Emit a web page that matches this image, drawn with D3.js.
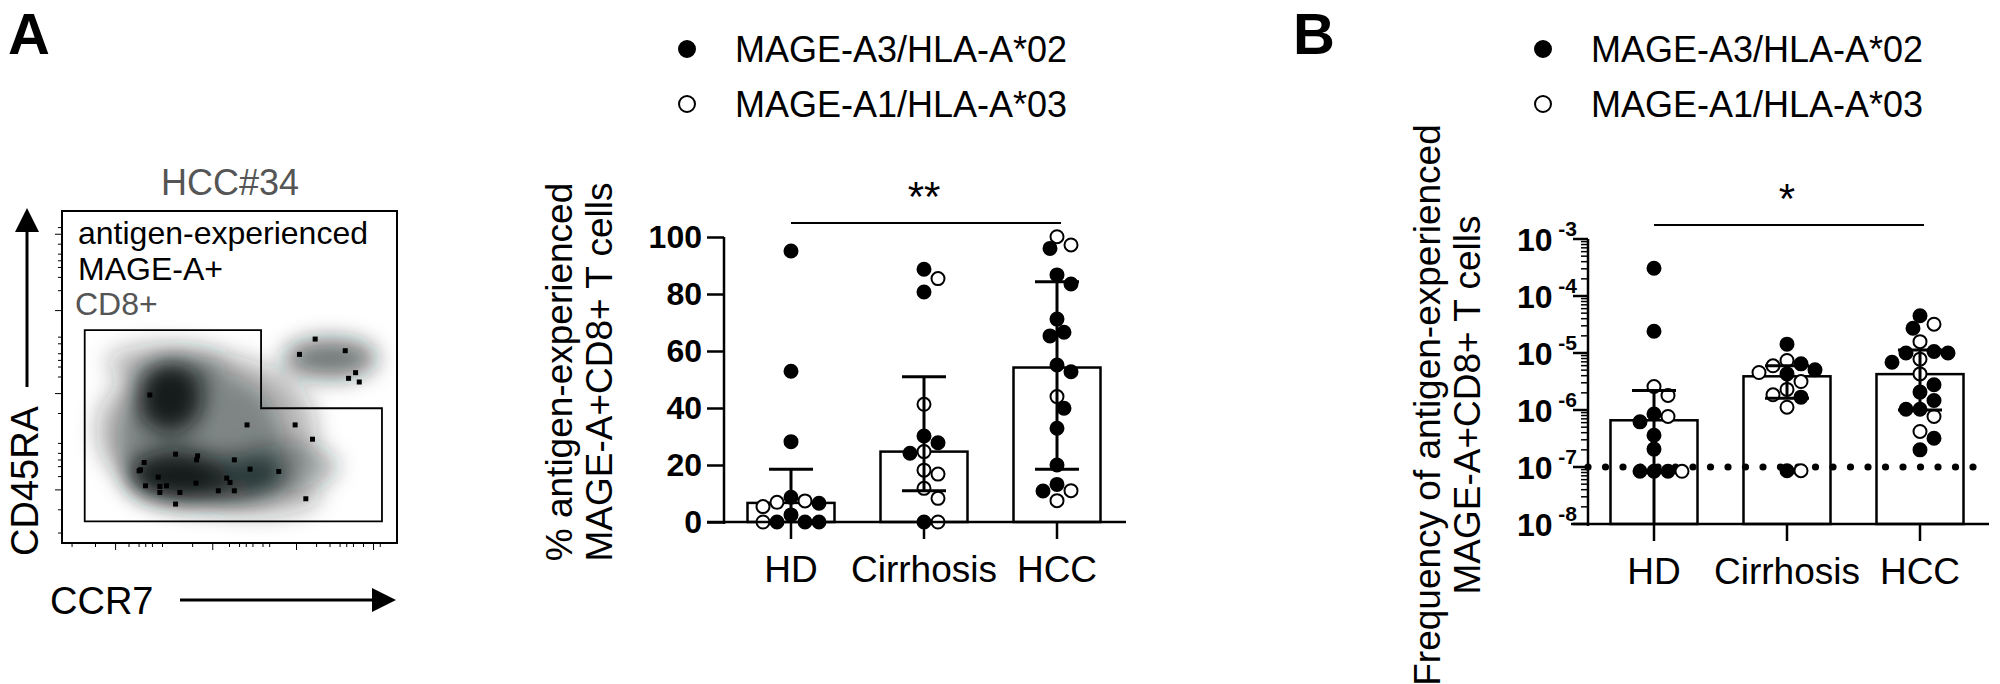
<!DOCTYPE html>
<html>
<head>
<meta charset="utf-8">
<script src="https://cdn.jsdelivr.net/npm/d3@7"></script>
<style>
  body { margin: 0; background: #fff; }
  text { font-family: "Liberation Sans", Arial, sans-serif; }
</style>
</head>
<body>
<svg id="fig" width="2000" height="684"></svg>
<script>
const groups = ['HD', 'Cirrhosis', 'HCC']

// panel A: % antigen-experienced
const pctFilled = {
  HD: [95.1, 52.9, 28.2, 8.7, 6.6, 2.5, 0, 0, 0],
  Cirrhosis: [88.7, 80.7, 30.2, 27.8, 24.1, 0],
  HCC: [96, 86.7, 83.5, 71.2, 66.6, 65.3, 55.1, 52.7, 39.9, 32.9, 20, 13.2, 10.9]
}
const pctOpen = {
  HD: [7.4, 6.9, 5.4, 0],
  Cirrhosis: [85.4, 41.3, 24.7, 18.2, 16.8, 11.8, 8.3, 0],
  HCC: [100.1, 97.2, 44, 11, 7.5]
}
const pctMean = [6.7, 24.7, 54.2]
const pctSdHi = [18.5, 51, 84.3]
const pctSdLo = [null, 11, 18.5]
const pctTicks = [0, 20, 40, 60, 80, 100]

// panel B: frequency
const freqFilled = {
  HD: [3.06e-4, 2.41e-5, 8.5e-7, 6.2e-7, 3.6e-7, 2.06e-7, 8.4e-8, 8.4e-8, 8.4e-8],
  Cirrhosis: [1.43e-5, 6.45e-6, 5.06e-6, 4.3e-6, 1.68e-6, 8.6e-8],
  HCC: [4.5e-5, 2.72e-5, 1.06e-5, 1e-5, 1e-5, 6.9e-6, 2.77e-6, 2.06e-6, 1.47e-6, 1.03e-6, 1.03e-6, 3.2e-7, 2e-7]
}
const freqOpen = {
  HD: [2.58e-6, 1.8e-6, 7.7e-7, 8.4e-8],
  Cirrhosis: [7.4e-6, 5.96e-6, 4.55e-6, 3.16e-6, 2.3e-6, 1.85e-6, 1.12e-6, 8.6e-8],
  HCC: [3.2e-5, 1.58e-5, 7.8e-6, 4.3e-6, 7.7e-7, 4.2e-7]
}
const freqMean = [6.6e-7, 3.9e-6, 4.26e-6]
const freqSdHi = [2.2e-6, 6e-6, 1.13e-5]
const freqSdLo = [null, 1.6e-6, 1e-6]
const freqExp = [-8, -7, -6, -5, -4, -3]
const detectionLimit = 1e-7

// flow plot events (instrument units)
const ccr7 = [945, 898, 1035, 1066, 1045, 1077, 450, 741, 885, 937, 527, 593, 590, 703, 433, 422, 418, 750, 836, 475, 680, 690, 437, 480, 500, 588, 540, 480, 655, 703, 527, 917]
const cd45ra = [567, 613, 602, 668, 685, 696, 735, 825, 825, 868, 913, 918, 930, 930, 938, 960, 963, 958, 965, 982, 985, 998, 1008, 1010, 1008, 1000, 1028, 1028, 1023, 1023, 1063, 1047]
// density cloud centres
const cloudX = [620, 510, 530, 720, 860, 990, 600, 780, 500]
const cloudY = [840, 740, 980, 985, 950, 625, 870, 1040, 640]
const cloudRx = [330, 100, 150, 140, 150, 140, 250, 180, 180]
const cloudRy = [230, 110, 80, 70, 70, 60, 210, 60, 60]
const cloudOp = [0.3, 1, 1, 0.6, 0.4, 0.6, 0.35, 0.3, 0.3]
const gateX = [255, 783, 783, 1145, 1145, 255]
const gateY = [540, 540, 775, 775, 1115, 1115]

const svg = d3.select('#fig')
const R = 6.5

// ---------- beeswarm offsets ----------
function swarm(pts, ys) {
  const placed = []
  const steps = [0, 1, -1, 2, -2, 3, -3, 4, -4, 5, -5]
  pts.map(p => ({ ...p, y: ys(p.v) }))
    .sort((a, b) => a.y - b.y)
    .forEach(p => {
      for (const k of steps) {
        const cand = k * (R * 2 + 1) * 0.5
        const ok = placed.every(q => Math.hypot(q.dx - cand, q.y - p.y) >= 2 * R + 0.5)
        if (ok) { p.dx = cand; placed.push(p); return }
      }
      p.dx = 0; placed.push(p)
    })
  return placed
}

function dotPanel(opt) {
  const g = svg.append('g')
  const x = d3.scalePoint().domain(groups).range([opt.x0, opt.x0 + 266])
  const y = opt.y
  const bw = 87

  g.selectAll('rect.bar').data(groups).join('rect')
    .attr('x', d => x(d) - bw / 2).attr('width', bw)
    .attr('y', (d, i) => y(opt.mean[i]))
    .attr('height', (d, i) => opt.yBase - y(opt.mean[i]))
    .attr('fill', '#fff').attr('stroke', '#000').attr('stroke-width', 2.5)

  if (opt.limit) {
    const lx = d3.range(opt.axisX, opt.limitEnd, 17.5)
    g.selectAll('circle.lim').data(lx).join('circle')
      .attr('cx', d => d).attr('cy', y(opt.limit)).attr('r', 3.6).attr('fill', '#000')
  }

  groups.forEach(grp => {
    const pts = opt.filled[grp].map(v => ({ v, f: true }))
      .concat(opt.open[grp].map(v => ({ v, f: false })))
    g.selectAll(null).data(swarm(pts, y)).join('circle')
      .attr('cx', d => x(grp) + d.dx).attr('cy', d => d.y).attr('r', R)
      .attr('fill', d => d.f ? '#000' : '#fff')
      .attr('stroke', '#000').attr('stroke-width', 2)
  })

  groups.forEach((grp, i) => {
    const hi = y(opt.hi[i])
    const lo = opt.lo[i] == null ? opt.yBase : y(opt.lo[i])
    g.append('line').attr('x1', x(grp)).attr('x2', x(grp)).attr('y1', hi).attr('y2', lo)
      .attr('stroke', '#000').attr('stroke-width', 3)
    const caps = opt.lo[i] == null ? [hi] : [hi, lo]
    caps.forEach(c => g.append('line').attr('x1', x(grp) - 22).attr('x2', x(grp) + 22)
      .attr('y1', c).attr('y2', c).attr('stroke', '#000').attr('stroke-width', 3))
  })

  g.append('line').attr('x1', opt.axisX - 17).attr('x2', opt.xEnd)
    .attr('y1', opt.yBase).attr('y2', opt.yBase).attr('stroke', '#000').attr('stroke-width', 2.5)
  groups.forEach(grp => {
    g.append('line').attr('x1', x(grp)).attr('x2', x(grp))
      .attr('y1', opt.yBase).attr('y2', opt.yBase + 17).attr('stroke', '#000').attr('stroke-width', 2.5)
    g.append('text').attr('x', x(grp)).attr('y', opt.yBase + 60).attr('text-anchor', 'middle')
      .attr('font-size', 37).text(grp)
  })
  g.append('line').attr('x1', opt.axisX).attr('x2', opt.axisX)
    .attr('y1', opt.yTop).attr('y2', opt.yBase + 2).attr('stroke', '#000').attr('stroke-width', 2.5)

  g.append('line').attr('x1', x('HD')).attr('x2', x('HCC') + 4)
    .attr('y1', opt.sigY).attr('y2', opt.sigY).attr('stroke', '#000').attr('stroke-width', 2)
  g.append('text').attr('x', x('Cirrhosis')).attr('y', opt.sigY - 12).attr('text-anchor', 'middle')
    .attr('font-size', 42).text(opt.sig)

  const t = g.append('text').attr('transform', `translate(${opt.titleX},${opt.titleY}) rotate(-90)`)
    .attr('text-anchor', 'middle').attr('font-size', 37)
  t.append('tspan').attr('x', 0).attr('dy', 0).text(opt.title[0])
  t.append('tspan').attr('x', 0).attr('dy', 40).text(opt.title[1])
  return g
}

// ---------- panel A chart ----------
const yA = d3.scaleLinear().domain([0, 100]).range([522, 237])
const gA = dotPanel({
  x0: 791, y: yA, yBase: 522, yTop: 237, axisX: 724, xEnd: 1126,
  filled: pctFilled, open: pctOpen, mean: pctMean, hi: pctSdHi, lo: pctSdLo,
  sigY: 223, sig: '**', titleX: 572, titleY: 372,
  title: ['% antigen-experienced', 'MAGE-A+CD8+ T cells']
})
gA.append('g').attr('transform', 'translate(724,0)')
  .call(d3.axisLeft(yA).tickValues(pctTicks).tickSize(17).tickPadding(5))
  .call(a => a.select('.domain').remove())
  .call(a => a.selectAll('line').attr('stroke-width', 2.5))
  .call(a => a.selectAll('text').attr('font-size', 32).attr('font-weight', 'bold')
    .attr('font-family', '"Liberation Sans", Arial, sans-serif'))

// ---------- panel B chart ----------
const yB = d3.scaleLog().domain([1e-8, 1e-3]).range([524, 239])
const gB = dotPanel({
  x0: 1654, y: yB, yBase: 524, yTop: 239, axisX: 1588, xEnd: 1989,
  filled: freqFilled, open: freqOpen, mean: freqMean, hi: freqSdHi, lo: freqSdLo,
  limit: detectionLimit, limitEnd: 1975,
  sigY: 225, sig: '*', titleX: 1440, titleY: 405,
  title: ['Frequency of antigen-experienced', 'MAGE-A+CD8+ T cells']
})
const minor = []
freqExp.slice(0, -1).forEach(e => d3.range(2, 10).forEach(m => minor.push(m * Math.pow(10, e))))
gB.selectAll('line.minor').data(minor).join('line')
  .attr('x1', 1581).attr('x2', 1588).attr('y1', d => yB(d)).attr('y2', d => yB(d))
  .attr('stroke', '#000').attr('stroke-width', 1.5)
freqExp.forEach(e => {
  const yy = yB(Math.pow(10, e))
  gB.append('line').attr('x1', 1573).attr('x2', 1588).attr('y1', yy).attr('y2', yy)
    .attr('stroke', '#000').attr('stroke-width', 2.5)
  const t = gB.append('text').attr('x', 1577).attr('y', yy + 12).attr('text-anchor', 'end')
    .attr('font-size', 32).attr('font-weight', 'bold')
  t.append('tspan').text('10')
  t.append('tspan').attr('font-size', 21).attr('dy', -15).text(' ' + e)
})

// ---------- legends & panel letters ----------
function legend(x, y0) {
  const items = [['MAGE-A3/HLA-A*02', true], ['MAGE-A1/HLA-A*03', false]]
  items.forEach((it, i) => {
    const yy = y0 + i * 55
    svg.append('circle').attr('cx', x).attr('cy', yy).attr('r', 8)
      .attr('fill', it[1] ? '#000' : '#fff').attr('stroke', '#000').attr('stroke-width', 2)
    svg.append('text').attr('x', x + 48).attr('y', yy + 13).attr('font-size', 36).text(it[0])
  })
}
legend(687, 49)
legend(1543, 49)
svg.append('text').attr('x', 8).attr('y', 54).attr('font-size', 58).attr('font-weight', 'bold').text('A')
svg.append('text').attr('x', 1293).attr('y', 54).attr('font-size', 58).attr('font-weight', 'bold').text('B')

// ---------- flow plot ----------
const fx = d3.scaleLinear().domain([187, 1190]).range([62, 397])
const fy = d3.scaleLinear().domain([182, 1180]).range([211, 543])
svg.append('defs').append('filter').attr('id', 'blur').attr('x', '-50%').attr('y', '-50%')
  .attr('width', '200%').attr('height', '200%')
  .append('feGaussianBlur').attr('stdDeviation', 11)
const fg = svg.append('g')
fg.append('g').attr('filter', 'url(#blur)').selectAll('ellipse').data(cloudX).join('ellipse')
  .attr('cx', d => fx(d)).attr('cy', (d, i) => fy(cloudY[i]))
  .attr('rx', (d, i) => fx(cloudRx[i]) - fx(0)).attr('ry', (d, i) => fy(cloudRy[i]) - fy(0))
  .attr('fill', '#142020').attr('opacity', (d, i) => cloudOp[i])
fg.append('polygon')
  .attr('points', gateX.map((d, i) => [fx(d), fy(gateY[i])].join(',')).join(' '))
  .attr('fill', 'none').attr('stroke', '#000').attr('stroke-width', 1.8)
fg.selectAll('rect.ev').data(ccr7).join('rect')
  .attr('x', d => fx(d) - 2.5).attr('y', (d, i) => fy(cd45ra[i]) - 2.5)
  .attr('width', 5).attr('height', 5).attr('fill', '#000')
fg.append('rect').attr('x', 62).attr('y', 211).attr('width', 335).attr('height', 332)
  .attr('fill', 'none').attr('stroke', '#000').attr('stroke-width', 2)
const tickPos = [0.03, 0.1, 0.16, 0.2, 0.23, 0.25, 0.27, 0.3, 0.39, 0.45, 0.5, 0.53, 0.55, 0.57, 0.6, 0.62, 0.7, 0.76, 0.8, 0.83, 0.85, 0.87, 0.9, 0.93, 0.95]
fg.selectAll('line.tb').data(tickPos).join('line')
  .attr('x1', d => 62 + d * 335).attr('x2', d => 62 + d * 335)
  .attr('y1', 543).attr('y2', (d, i) => 543 + (i % 7 == 2 ? 7 : 4)).attr('stroke', '#000')
fg.selectAll('line.tl').data(tickPos).join('line')
  .attr('y1', d => 543 - d * 332).attr('y2', d => 543 - d * 332)
  .attr('x1', 62).attr('x2', (d, i) => 62 - (i % 7 == 2 ? 7 : 4)).attr('stroke', '#000')

fg.append('text').attr('x', 230).attr('y', 195).attr('text-anchor', 'middle')
  .attr('font-size', 36).attr('fill', '#555').text('HCC#34')
fg.append('text').attr('x', 78).attr('y', 244).attr('font-size', 32).text('antigen-experienced')
fg.append('text').attr('x', 78).attr('y', 280).attr('font-size', 32).text('MAGE-A+')
fg.append('text').attr('x', 75).attr('y', 315).attr('font-size', 32).attr('fill', '#555').text('CD8+')

fg.append('text').attr('transform', 'translate(38,556) rotate(-90)')
  .attr('font-size', 38).text('CD45RA')
fg.append('line').attr('x1', 27).attr('x2', 27).attr('y1', 387).attr('y2', 225)
  .attr('stroke', '#000').attr('stroke-width', 3)
fg.append('path').attr('d', 'M27,208 L15,232 L39,232 Z').attr('fill', '#000')
fg.append('text').attr('x', 50).attr('y', 614).attr('font-size', 38).text('CCR7')
fg.append('line').attr('x1', 180).attr('x2', 378).attr('y1', 600).attr('y2', 600)
  .attr('stroke', '#000').attr('stroke-width', 3)
fg.append('path').attr('d', 'M396,600 L372,588 L372,612 Z').attr('fill', '#000')
</script>
</body>
</html>
